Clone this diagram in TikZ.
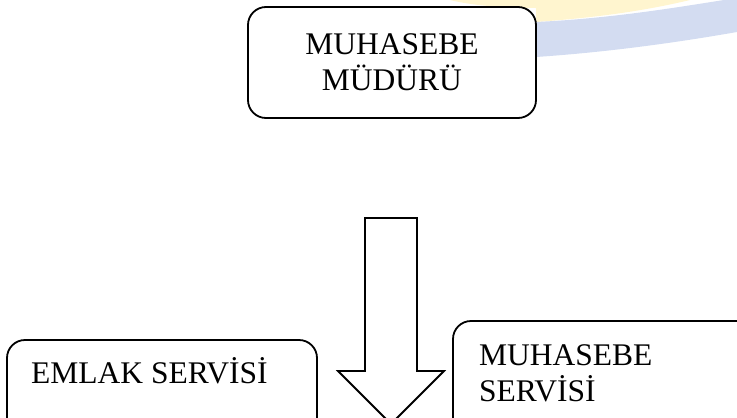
\documentclass[tikz,border=0pt]{standalone}
\usepackage{fontspec}
\setmainfont{Liberation Serif}
\definecolor{wmblue}{HTML}{D3DCF1}
\definecolor{wmyellow}{HTML}{FFF5CF}
\begin{document}
\begin{tikzpicture}[x=1pt,y=-1pt,
  box/.style={draw, line width=1.8pt, rounded corners=18pt, fill=white},
  txt/.style={font=\fontsize{31.5}{36}\selectfont, inner sep=0pt, align=left},
  blockarrow/.style={draw, line width=1.8pt, fill=white, line join=miter}]
\useasboundingbox (0,0) rectangle (737,418);
% faint watermark
\fill[wmyellow] (450,0) -- (690,0) .. controls (640,12) and (590,18) .. (536,22) -- (536,8) .. controls (500,8) and (470,5) .. (450,0) -- cycle;
\fill[wmblue] (536,22) .. controls (620,18) and (690,5) .. (737,-2) -- (737,32) .. controls (680,42) and (610,52) .. (536,57) -- cycle;
% boxes
\node[box, minimum width=288pt, minimum height=111pt, txt, align=center] (top) at (392,62.5) {MUHASEBE\\MÜDÜRÜ};
\node[box, minimum width=310pt, minimum height=110pt] (left) at (162,395) {};
\node[box, minimum width=320pt, minimum height=130pt] (right) at (613,386) {};
\node[txt, anchor=base west] (lefttxt) at (31,383) {EMLAK SERVİSİ};
\node[txt, anchor=base west] (righttxt1) at (479,365) {MUHASEBE};
\node[txt, anchor=base west] (righttxt2) at (479,401) {SERVİSİ};
% block arrow
\draw[blockarrow] (365,218) -- (417,218) -- (417,371) -- (444,371) -- (391,424) -- (338,371) -- (365,371) -- cycle;
\end{tikzpicture}
\end{document}
